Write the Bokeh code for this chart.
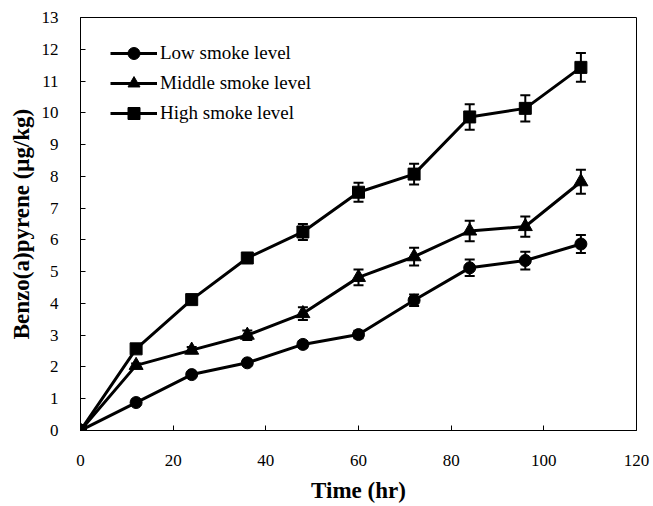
from bokeh.plotting import figure
from bokeh.models import (ColumnDataSource, Whisker, TeeHead, SingleIntervalTicker,
                          Range1d, Legend, LegendItem)
from bokeh.embed import file_html
from bokeh.resources import INLINE

# ---- data ----
time_hr = [0, 12, 24, 36, 48, 60, 72, 84, 96, 108]
low = [0, 0.88, 1.76, 2.13, 2.71, 3.02, 4.10, 5.12, 5.35, 5.87]
low_err = [0, 0.05, 0.06, 0.08, 0.10, 0.12, 0.18, 0.26, 0.28, 0.28]
middle = [0, 2.05, 2.53, 3.00, 3.68, 4.82, 5.47, 6.28, 6.42, 7.83]
middle_err = [0, 0.06, 0.10, 0.15, 0.20, 0.25, 0.28, 0.32, 0.32, 0.38]
high = [0, 2.57, 4.12, 5.43, 6.25, 7.50, 8.07, 9.87, 10.14, 11.43]
high_err = [0, 0.08, 0.10, 0.15, 0.25, 0.30, 0.33, 0.40, 0.41, 0.45]

series_names = ["Low smoke level", "Middle smoke level", "High smoke level"]
series_vals = [low, middle, high]
series_errs = [low_err, middle_err, high_err]
markers = ["circle", "triangle", "square"]
marker_sizes = [12, 14, 12]

FONT = "Liberation Serif"

p = figure(width=653, height=506, output_backend="svg", toolbar_location=None,
           x_range=Range1d(0, 120), y_range=Range1d(0, 13),
           min_border_left=80, min_border_right=17, min_border_top=17,
           min_border_bottom=76)
p.background_fill_color = "white"
p.border_fill_color = "white"
p.outline_line_color = "black"
p.outline_line_width = 1
p.grid.visible = False

for ax in (p.xaxis[0], p.yaxis[0]):
    ax.major_tick_in = 5
    ax.major_tick_out = 0
    ax.minor_tick_line_color = None
    ax.axis_line_color = "black"
    ax.axis_line_width = 1
    ax.major_tick_line_color = "black"
    ax.major_label_text_font = FONT
    ax.major_label_text_font_size = "17px"
    ax.major_label_text_color = "black"
    ax.axis_label_text_font = FONT
    ax.axis_label_text_font_style = "bold"
    ax.axis_label_text_font_size = "23px"
    ax.axis_label_text_color = "black"

p.xaxis.ticker = SingleIntervalTicker(interval=20)
p.yaxis.ticker = SingleIntervalTicker(interval=1)
p.xaxis.axis_label = "Time (hr)"
p.yaxis.axis_label = "Benzo(a)pyrene (\u03bcg/kg)"
p.xaxis.major_label_standoff = 20
p.yaxis.major_label_standoff = 18
p.xaxis.axis_label_standoff = 9
p.yaxis.axis_label_standoff = 5

items = []
for name, vals, errs, mk, ms in zip(series_names, series_vals, series_errs, markers, marker_sizes):
    src = ColumnDataSource(dict(
        x=time_hr, y=vals,
        upper=[v + e for v, e in zip(vals, errs)],
        lower=[v - e for v, e in zip(vals, errs)]))
    w = Whisker(base="x", upper="upper", lower="lower", source=src,
                dimension="height", line_width=2, line_color="black",
                upper_head=TeeHead(size=10, line_width=2, line_color="black"),
                lower_head=TeeHead(size=10, line_width=2, line_color="black"))
    p.add_layout(w)
    r_line = p.line("x", "y", source=src, line_color="black", line_width=3)
    r_mk = p.scatter("x", "y", source=src, marker=mk, size=ms,
                     fill_color="black", line_color="black")
    items.append(LegendItem(label=name, renderers=[r_line, r_mk]))

legend = Legend(items=items, location=(30, 302))
legend.background_fill_alpha = 0
legend.border_line_color = None
legend.label_text_font = FONT
legend.label_text_font_size = "19px"
legend.label_text_color = "black"
legend.glyph_width = 47
legend.glyph_height = 30
legend.spacing = 0
legend.padding = 5
legend.margin = 0
legend.label_standoff = 3
legend.label_height = 30
p.add_layout(legend, "center")

open("out.html", "w").write(file_html(p, INLINE))
